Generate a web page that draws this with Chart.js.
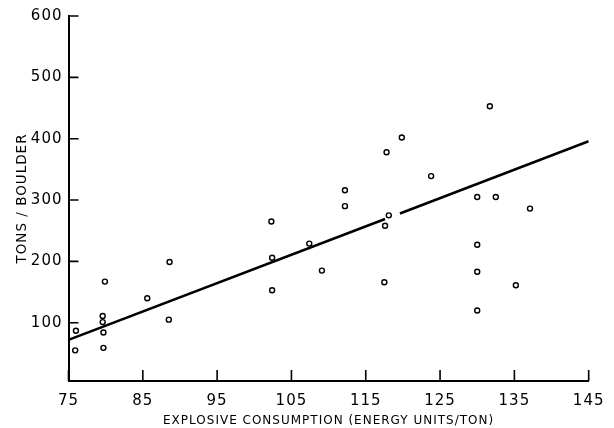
<!DOCTYPE html>
<html>
<head>
<meta charset="utf-8">
<script src="https://cdn.jsdelivr.net/npm/chart.js@4"></script>
<style>
  html, body { margin: 0; padding: 0; background: #fff; }
  #wrap { width: 614px; height: 428px; }
</style>
</head>
<body>
<div id="wrap"><canvas id="blastChart"></canvas></div>
<script>
// explosive consumption (energy units/ton) vs tons per boulder
var consumption = [76, 75.9, 79.9, 79.6, 79.6, 79.7, 79.7, 85.6, 88.6, 88.5,
                   102.3, 102.4, 102.4, 107.4, 109.1, 112.2, 112.2, 117.5, 117.6, 117.8,
                   118.1, 119.85, 123.8, 130, 130, 130, 130, 131.7, 132.5, 135.2, 137.1];
var tonsPerBoulder = [87, 55, 167, 111, 101, 84, 59, 140, 199, 105,
                      265, 206, 153, 229, 185, 316, 290, 166, 258, 378,
                      275, 402, 339, 305, 227, 183, 120, 453, 305, 161, 286];

// fitted line, drawn with a small break near 119
var fitX = [75, 117.6, 118.6, 119.6, 145];
var fitY = [72, 269, null, 278, 396];

var xTicks = [75, 85, 95, 105, 115, 125, 135, 145];
var yTicks = [100, 200, 300, 400, 500, 600];

Chart.defaults.font.family = 'DejaVu Sans';
Chart.defaults.color = '#000';

var scatterPts = consumption.map(function (x, i) { return { x: x, y: tonsPerBoulder[i] }; });
var fitPts = fitX.map(function (x, i) { return { x: x, y: fitY[i] }; });

// ticks point into the plot, like the original figure
var inwardTicks = {
    id: 'inwardTicks',
    beforeDraw: function (chart) {
        chart.ctx.letterSpacing = '1px';
    },
    afterDatasetsDraw: function (chart) {
        var ctx = chart.ctx;
        var xs = chart.scales.x, ys = chart.scales.y;
        var bottom = ys.getPixelForValue(5);
        var left = xs.getPixelForValue(75);
        ctx.save();
        ctx.strokeStyle = '#000';
        ctx.lineWidth = 1.6;
        ctx.beginPath();
        xTicks.forEach(function (v) {
            var px = xs.getPixelForValue(v);
            ctx.moveTo(px, bottom);
            ctx.lineTo(px, bottom - 11);
        });
        yTicks.forEach(function (v) {
            var py = ys.getPixelForValue(v);
            ctx.moveTo(left, py);
            ctx.lineTo(left + 10, py);
        });
        ctx.stroke();
        ctx.restore();
    },
    afterDraw: function (chart) {
        chart.ctx.letterSpacing = '0px';
    }
};

new Chart(document.getElementById('blastChart'), {
    type: 'scatter',
    plugins: [inwardTicks],
    data: {
        datasets: [
            {
                label: 'blasts',
                data: scatterPts,
                pointRadius: 2.5,
                pointBorderWidth: 1.4,
                pointBackgroundColor: '#fff',
                pointBorderColor: '#000',
            },
            {
                type: 'line',
                label: 'fit',
                data: fitPts,
                borderColor: '#000',
                borderWidth: 2.6,
                pointRadius: 0,
                spanGaps: false,
                tension: 0,
            },
        ]
    },
    options: {
        responsive: true,
        maintainAspectRatio: false,
        animation: false,
        layout: {
            padding: { left: 14, right: 14, top: 16, bottom: 0 },
        },
        plugins: {
            legend: { display: false },
            tooltip: { enabled: false },
        },
        scales: {
            x: {
                type: 'linear',
                min: 75,
                max: 145,
                afterBuildTicks: function (scale) {
                    scale.ticks = xTicks.map(function (v) { return { value: v }; });
                },
                afterFit: function (scale) {
                    scale.height = 47;
                },
                grid: { drawOnChartArea: false, drawTicks: false },
                border: { display: true, color: '#000', width: 2 },
                ticks: {
                    padding: 11,
                    maxRotation: 0,
                    autoSkip: false,
                    font: { size: 15 },
                },
                title: {
                    display: true,
                    text: 'EXPLOSIVE CONSUMPTION (ENERGY UNITS/TON)',
                    font: { size: 12 },
                    padding: { top: 1, bottom: 0 },
                },
            },
            y: {
                type: 'linear',
                min: 5,
                max: 600,
                afterBuildTicks: function (scale) {
                    scale.ticks = yTicks.map(function (v) { return { value: v }; });
                },
                afterFit: function (scale) {
                    scale.width = 54.5;
                },
                grid: { drawOnChartArea: false, drawTicks: false },
                border: { display: true, color: '#000', width: 2 },
                ticks: {
                    padding: 6,
                    autoSkip: false,
                    font: { size: 15 },
                },
                title: {
                    display: true,
                    text: 'TONS / BOULDER',
                    font: { size: 13.5 },
                    padding: { top: 0, bottom: 2 },
                },
            },
        },
    },
});
</script>
</body>
</html>
